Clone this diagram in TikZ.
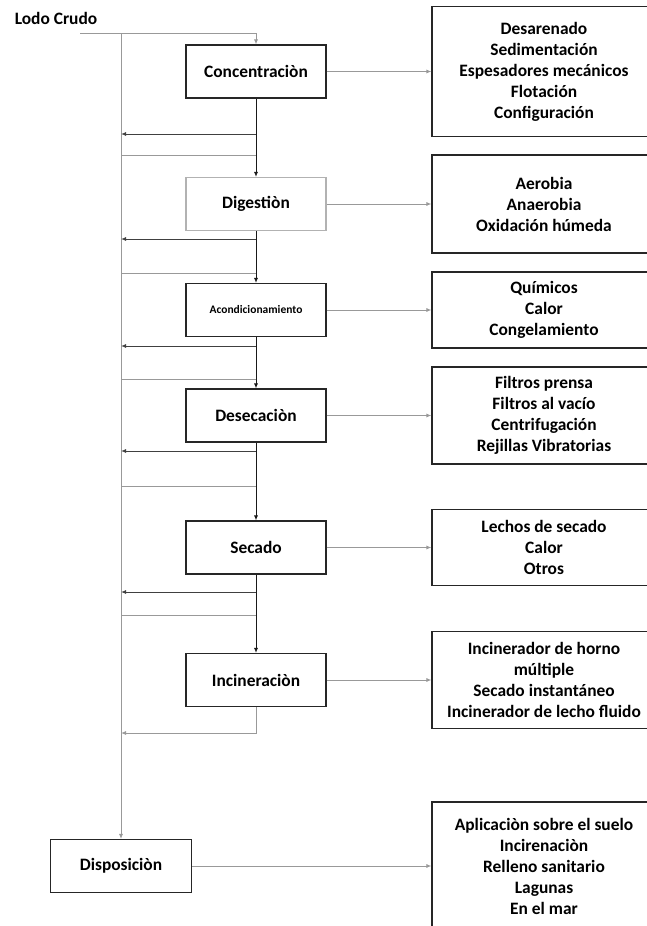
\documentclass[tikz,border=0pt]{standalone}
\usepackage{fontspec}
\setmainfont{Carlito}
\usepackage{xcolor}
\usepackage{tikz}
\usetikzlibrary{positioning, arrows.meta}

\begin{document}
\begin{tikzpicture}[x=1pt, y=-1pt, >={Latex[length=5pt,width=4pt]},
    stage/.style={draw=black!85, line width=1.1pt, minimum width=140pt, minimum height=53pt,
                  font=\fontsize{17.4}{20}\selectfont\bfseries},
    method/.style={draw=black!85, line width=1.1pt, minimum width=224pt, align=center,
                   font=\fontsize{17.4}{21}\selectfont\bfseries},
    main/.style={->, line width=0.9pt, black!90},
    feed/.style={line width=0.9pt, gray!80},
    back/.style={->, line width=0.9pt, black!75}]
    \useasboundingbox (0,0) rectangle (646,926);
    % stages
    \node[font=\fontsize{17.4}{20}\selectfont\bfseries] (lodo) at (56,18) {Lodo Crudo};
    \node[stage] (conc) at (256,71.5) {Concentraciòn};
    \node[stage, draw=gray!60] (dig) at (256,204) {Digestiòn};
    \node[stage, font=\fontsize{11.5}{14}\selectfont\bfseries] (acon) at (256,310) {Acondicionamiento};
    \node[stage] (dese) at (256,415.5) {Desecaciòn};
    \node[stage] (sec) at (256,547.5) {Secado};
    \node[stage] (inc) at (256,680) {Incineraciòn};
    \node[stage, minimum width=141pt] (disp) at (121,866) {Disposiciòn};
    % methods
    \node[method, minimum height=130pt] (mconc) at (544,71.5) {Desarenado\\Sedimentación\\Espesadores mecánicos\\Flotación\\Configuración};
    \node[method, minimum height=98pt] (mdig) at (544,204) {Aerobia\\Anaerobia\\Oxidación húmeda};
    \node[method, minimum height=76pt] (macon) at (544,310) {Químicos\\Calor\\Congelamiento};
    \node[method, minimum height=97pt] (mdese) at (544,415.5) {Filtros prensa\\Filtros al vacío\\Centrifugación\\Rejillas Vibratorias};
    \node[method, minimum height=76pt] (msec) at (544,547.5) {Lechos de secado\\Calor\\Otros};
    \node[method, minimum height=97pt] (minc) at (544,680) {Incinerador de horno\\múltiple\\Secado instantáneo\\Incinerador de lecho fluido};
    \node[method, minimum height=128pt] (mdisp) at (544,866) {Aplicaciòn sobre el suelo\\Incirenaciòn\\Relleno sanitario\\Lagunas\\En el mar};
    % bus
    \coordinate (lodoend) at (80,33);
    \coordinate (bustop) at (121,33);
    \coordinate (feedtop) at (256,33);
    \foreach \n/\yo/\yi in {1/134/155, 2/239/273, 3/346/379, 4/451/486, 5/592/615} {
        \coordinate (o\n) at (256,\yo);
        \coordinate (ob\n) at (121,\yo);
        \coordinate (i\n) at (256,\yi);
        \coordinate (ib\n) at (121,\yi);
    }
    \coordinate (ob6) at (121,733);
    \draw[feed] (lodoend) -- (feedtop);
    \draw[feed, ->] (feedtop) -- (conc);
    \draw[feed, ->] (bustop) -- (disp);
    \draw[main] (conc) -- (dig);
    \draw[main] (dig) -- (acon);
    \draw[main] (acon) -- (dese);
    \draw[main] (dese) -- (sec);
    \draw[main] (sec) -- (inc);
    \foreach \n in {1,...,5} {
        \draw[back] (o\n) -- (ob\n);
        \draw[feed] (ib\n) -- (i\n);
    }
    \draw[back, gray!80] (inc.south) |- (ob6);
    % methods arrows
    \draw[feed, ->] (conc) -- (mconc);
    \draw[feed, ->] (dig) -- (mdig);
    \draw[feed, ->] (acon) -- (macon);
    \draw[feed, ->] (dese) -- (mdese);
    \draw[feed, ->] (sec) -- (msec);
    \draw[feed, ->] (inc) -- (minc);
    \draw[feed, ->] (disp) -- (mdisp);
\end{tikzpicture}
\end{document}
